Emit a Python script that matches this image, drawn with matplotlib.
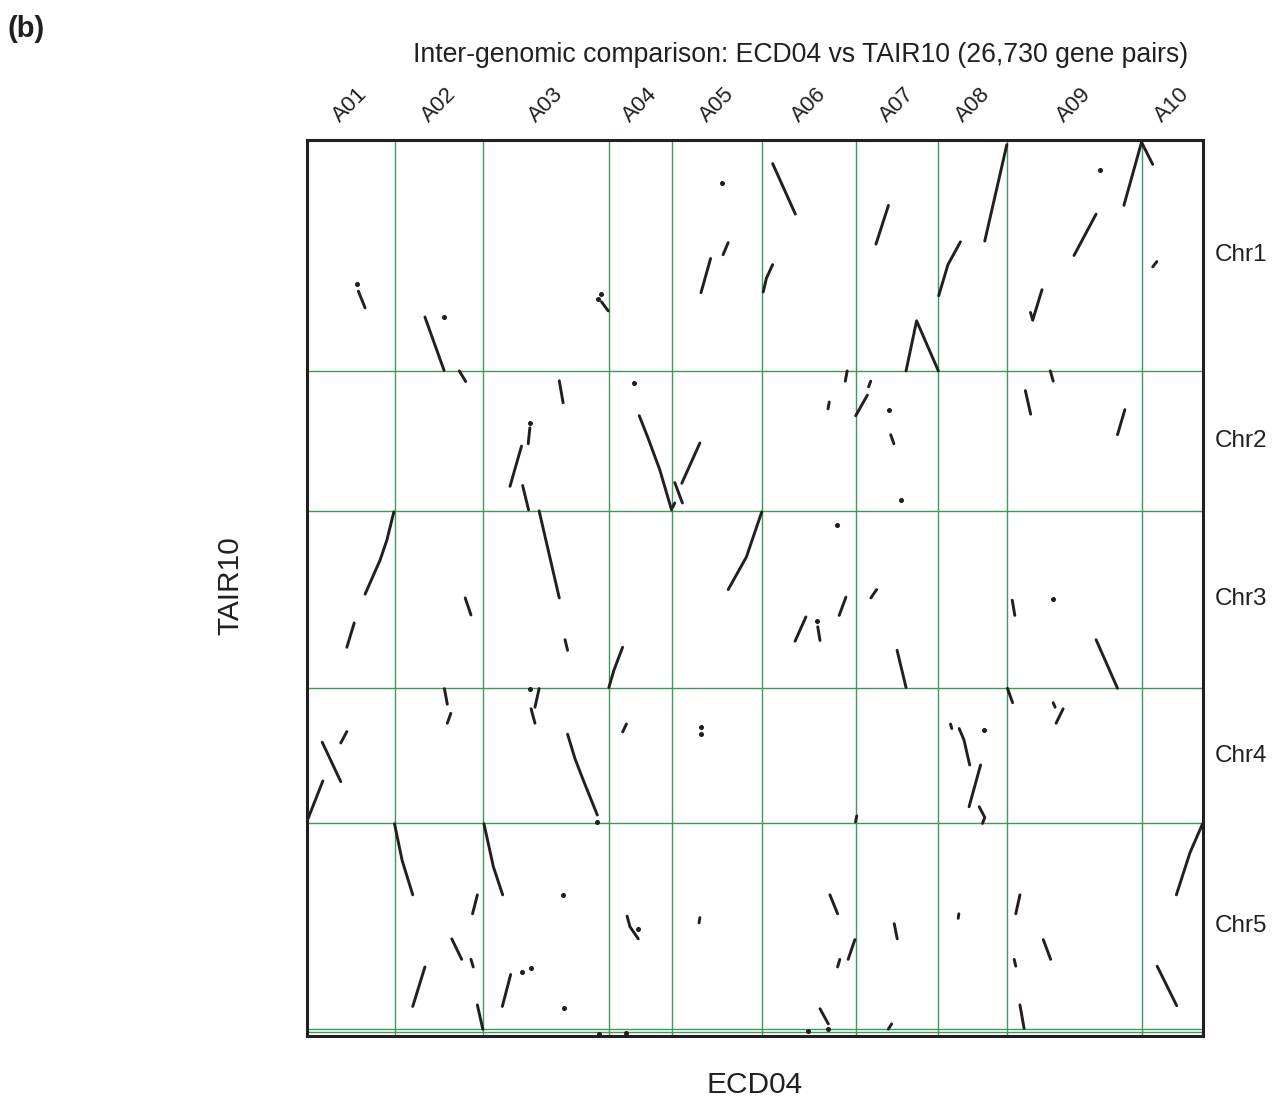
import numpy as np
import matplotlib.pyplot as plt

plt.rcParams['font.family'] = ['Liberation Sans', 'DejaVu Sans']

# ECD04 chromosomes (x axis) and TAIR10 chromosomes (y axis), sizes in Mb
ecd_chroms = ["A01", "A02", "A03", "A04", "A05", "A06", "A07", "A08", "A09", "A10"]
ecd_sizes = [27.5, 27.8, 39.2, 19.7, 28.3, 29.1, 25.9, 21.6, 41.9, 19.1]

tair_chroms = ["Chr1", "Chr2", "Chr3", "Chr4", "Chr5", "ChrC", "ChrM"]
tair_sizes = [30.4, 18.4, 23.4, 17.8, 27.1, 0.4, 0.5]
tair_labels = ["Chr1", "Chr2", "Chr3", "Chr4", "Chr5"]

# syntenic runs: (ECD04 chrom, ECD04 positions Mb, TAIR10 positions Mb)
chr1_blocks = [
    ("A01", [16.2, 18.3], [19.9, 22.1]),
    ("A02", [9.5, 15.5], [23.3, 30.35]),
    ("A03", [36.9, 39.0], [21.3, 22.5]),
    ("A05", [12.1, 9.1], [15.6, 20.1]),
    ("A05", [17.6, 16.0], [13.5, 15.1]),
    ("A06", [0.25, 1.25, 3.2], [20.0, 18.2, 16.4]),
    ("A06", [3.2, 10.3], [3.1, 9.75]),
    ("A07", [10.3, 6.4], [8.6, 13.7]),
    ("A07", [15.8, 19.1, 25.9], [30.4, 23.8, 30.4]),
    ("A08", [0.1, 3.0, 6.9], [20.5, 16.4, 13.4]),
    ("A08", [14.5, 21.4], [13.3, 0.6]),
    ("A09", [20.8, 27.7], [15.2, 9.75]),
    ("A09", [36.4, 41.9], [8.6, 0.3]),
    ("A09", [10.8, 7.9], [19.7, 23.7]),
    ("A09", [7.2, 7.9], [22.7, 23.7]),
    ("A10", [0.03, 3.5], [0.3, 3.2]),
    ("A10", [4.8, 3.5], [16.0, 16.7]),
]
chr1_dots = [("A01", 15.9, 18.9), ("A02", 15.6, 23.3), ("A03", 35.7, 20.9),
             ("A03", 36.9, 20.3), ("A05", 15.6, 5.7), ("A09", 28.8, 4.0)]

chr2_blocks = [
    ("A02", [20.25, 22.25], [0.0, 1.4]),
    ("A03", [23.7, 24.9], [1.3, 4.2]),
    ("A03", [14.5, 14.0], [7.5, 9.6]),
    ("A03", [11.9, 8.3], [9.9, 15.2]),
    ("A03", [12.25, 14.1], [15.1, 18.3]),
    ("A04", [9.5, 12.3, 15.9, 19.6], [5.9, 8.9, 13.0, 18.3]),
    ("A05", [0.9, 3.3], [14.7, 17.4]),
    ("A05", [0.2, 0.9], [18.0, 17.4]),
    ("A05", [3.1, 8.75], [14.8, 9.5]),
    ("A06", [26.5, 25.9], [0.0, 1.35]),
    ("A06", [20.9, 20.5], [4.1, 5.0]),
    ("A07", [4.75, 4.1], [1.35, 2.1]),
    ("A07", [3.7, 0.06], [3.2, 5.9]),
    ("A07", [11.0, 12.0], [8.4, 9.6]),
    ("A09", [13.4, 14.3], [0.0, 1.35]),
    ("A09", [5.6, 7.25], [2.6, 5.7]),
    ("A09", [36.7, 34.4], [5.1, 8.4]),
]
chr2_dots = [("A03", 14.5, 6.8), ("A04", 7.8, 1.6), ("A07", 10.4, 5.1), ("A07", 14.3, 17.0)]

chr3_blocks = [
    ("A01", [27.3, 25.1, 23.0, 18.3], [0.16, 3.9, 6.5, 11.0]),
    ("A01", [14.9, 12.6], [14.8, 18.0]),
    ("A02", [22.1, 23.9], [11.5, 13.75]),
    ("A03", [17.4, 23.7], [0.03, 11.5]),
    ("A03", [25.5, 26.3], [17.0, 18.4]),
    ("A04", [4.3, 1.6, 0.0], [18.0, 21.0, 23.3]),
    ("A05", [28.1, 23.3, 17.6], [0.16, 6.1, 10.4]),
    ("A06", [13.6, 10.2], [14.0, 17.2]),
    ("A06", [17.3, 18.0], [15.3, 17.1]),
    ("A06", [26.1, 24.0], [11.4, 13.8]),
    ("A07", [6.6, 4.8], [10.4, 11.5]),
    ("A07", [13.0, 15.8], [18.4, 23.3]),
    ("A09", [1.5, 2.3], [11.8, 13.8]),
    ("A09", [27.7, 34.4], [17.0, 23.4]),
]
chr3_dots = [("A06", 23.3, 1.9), ("A06", 17.0, 14.6), ("A09", 14.3, 11.6)]

chr4_blocks = [
    ("A01", [5.1, 0.06], [12.2, 17.6]),
    ("A01", [4.9, 10.7], [7.1, 12.3]),
    ("A01", [12.6, 10.7], [5.7, 7.2]),
    ("A02", [15.6, 16.5], [0.04, 2.1]),
    ("A02", [17.6, 16.5], [3.3, 4.6]),
    ("A03", [17.4, 16.1], [0.04, 2.5]),
    ("A03", [14.9, 16.1], [2.7, 4.6]),
    ("A03", [26.3, 28.6, 31.2, 35.6], [6.05, 9.25, 12.1, 16.7]),
    ("A04", [5.5, 4.3], [4.7, 5.75]),
    ("A07", [0.4, 0.0], [16.8, 17.6]),
    ("A08", [3.8, 4.2], [4.7, 5.3]),
    ("A08", [6.5, 8.0, 9.8], [5.3, 6.8, 10.1]),
    ("A08", [13.2, 9.6], [10.1, 15.6]),
    ("A08", [12.75, 14.5, 13.8], [15.6, 17.0, 17.8]),
    ("A09", [0.0, 1.6], [0.0, 1.9]),
    ("A09", [17.4, 15.2], [2.7, 4.6]),
    ("A09", [14.3, 14.9], [1.9, 2.5]),
]
chr4_dots = [("A03", 14.5, 0.04), ("A03", 35.6, 17.6), ("A05", 9.0, 5.1),
             ("A05", 9.1, 6.0), ("A08", 14.3, 5.5)]

chr5_blocks = [
    ("A02", [0.0, 2.4, 5.7], [0.04, 4.9, 9.4]),
    ("A02", [25.9, 24.4], [9.4, 11.9]),
    ("A02", [17.9, 21.0], [15.2, 17.9]),
    ("A02", [23.9, 24.6], [17.9, 18.9]),
    ("A02", [9.5, 5.7], [18.9, 24.1]),
    ("A02", [25.9, 27.6], [23.9, 27.1]),
    ("A03", [0.16, 3.1, 6.0], [0.04, 5.7, 9.4]),
    ("A03", [8.5, 5.9], [19.9, 24.1]),
    ("A04", [5.7, 6.6, 9.2], [12.2, 13.6, 15.2]),
    ("A05", [8.75, 8.5], [12.4, 13.1]),
    ("A06", [21.1, 23.5], [9.4, 11.9]),
    ("A06", [28.9, 26.8], [15.3, 17.9]),
    ("A06", [24.2, 23.5], [17.9, 18.9]),
    ("A06", [18.0, 20.6], [24.4, 26.4]),
    ("A07", [12.1, 13.05], [13.2, 15.2]),
    ("A07", [11.3, 10.25], [26.4, 27.1]),
    ("A08", [6.4, 6.2], [11.9, 12.5]),
    ("A09", [3.9, 2.6], [9.4, 11.9]),
    ("A09", [2.1, 2.6], [17.9, 18.8]),
    ("A09", [11.2, 13.5], [15.3, 17.9]),
    ("A09", [3.9, 5.2], [23.9, 27.0]),
    ("A10", [19.1, 15.2, 10.9], [0.04, 3.8, 9.4]),
    ("A10", [4.9, 11.0], [18.8, 24.0]),
]
chr5_dots = [("A03", 12.1, 19.6), ("A03", 14.8, 19.0), ("A03", 24.9, 9.4),
             ("A03", 25.2, 24.3), ("A04", 9.2, 13.9), ("A06", 20.6, 27.1)]

organelle_dots = [("A03", "ChrM", 36.2, 0.2), ("A04", "ChrM", 5.5, 0.05),
                  ("A06", "ChrC", 14.3, 0.2)]

blocks_by_chr = {"Chr1": chr1_blocks, "Chr2": chr2_blocks, "Chr3": chr3_blocks,
                 "Chr4": chr4_blocks, "Chr5": chr5_blocks}
dots_by_chr = {"Chr1": chr1_dots, "Chr2": chr2_dots, "Chr3": chr3_dots,
               "Chr4": chr4_dots, "Chr5": chr5_dots}

x_edges = np.concatenate([[0], np.cumsum(ecd_sizes)])
y_edges = np.concatenate([[0], np.cumsum(tair_sizes)])
x_off = dict(zip(ecd_chroms, x_edges[:-1]))
y_off = dict(zip(tair_chroms, y_edges[:-1]))

ink = '#231f20'
green = '#3a9a5a'

fig = plt.figure(figsize=(12.81, 11.03), dpi=100)
ax = fig.add_axes([0.2393, 0.0607, 0.6995, 0.8123])

for x in x_edges[1:-1]:
    ax.axvline(x, color=green, lw=1.0, zorder=1)
for y in y_edges[1:-1]:
    ax.axhline(y, color=green, lw=1.0, zorder=1)

for tchr, blocks in blocks_by_chr.items():
    for achr, xs, ys in blocks:
        ax.plot(x_off[achr] + np.array(xs), y_off[tchr] + np.array(ys),
                color=ink, lw=2.1, solid_capstyle='round', zorder=3)
    for achr, x, y in dots_by_chr[tchr]:
        ax.plot(x_off[achr] + x, y_off[tchr] + y, 'o', color=ink, ms=2.6, zorder=3)

for achr, tchr, x, y in organelle_dots:
    ax.plot(x_off[achr] + x, y_off[tchr] + y, 'o', color=ink, ms=2.6, zorder=3)

ax.set_xlim(0, x_edges[-1])
ax.set_ylim(y_edges[-1], 0)
ax.set_xticks([])
ax.set_yticks([])
for s in ax.spines.values():
    s.set_linewidth(2.2)
    s.set_color(ink)

# chromosome names
for name, lo, hi in zip(ecd_chroms, x_edges[:-1], x_edges[1:]):
    ax.text((lo + hi) / 2, 1.039, name, transform=ax.get_xaxis_transform(),
            rotation=45, ha='center', va='center', fontsize=16, color=ink)
for name, lo, hi in zip(tair_labels, y_edges[:5], y_edges[1:6]):
    ax.text(1.014, (lo + hi) / 2, name, transform=ax.get_yaxis_transform(),
            ha='left', va='center', fontsize=17.5, color=ink)

fig.text(0.6253, 0.950, "Inter-genomic comparison: ECD04 vs TAIR10 (26,730 gene pairs)",
         ha='center', va='center', fontsize=19.2, color=ink)
fig.text(0.5894, 0.0163, "ECD04", ha='center', va='center', fontsize=21.5, color=ink)
fig.text(0.1795, 0.4687, "TAIR10", ha='center', va='center', rotation=90,
         fontsize=21.5, color=ink)
fig.text(0.006, 0.9737, "(b)", ha='left', va='center', fontsize=21,
         fontweight='bold', color=ink)

fig.savefig("out.png", dpi=100)
